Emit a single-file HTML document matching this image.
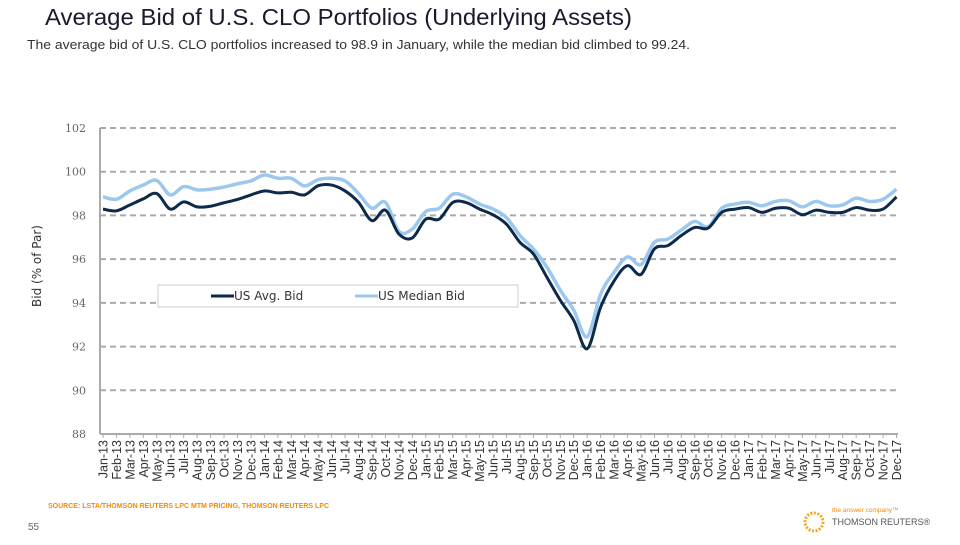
<!DOCTYPE html>
<html><head><meta charset="utf-8"><style>
body{margin:0;width:960px;height:540px;background:#fff;overflow:hidden;font-family:"Liberation Sans",sans-serif;}
</style></head><body>
<svg width="960" height="540" xmlns="http://www.w3.org/2000/svg">
<text x="45" y="25" font-size="23.5" textLength="587" lengthAdjust="spacingAndGlyphs" fill="#1a1a2e">Average Bid of U.S. CLO Portfolios (Underlying Assets)</text>
<text x="27" y="49" font-size="12.5" textLength="663" lengthAdjust="spacingAndGlyphs" fill="#333">The average bid of U.S. CLO portfolios increased to 98.9 in January, while the median bid climbed to 99.24.</text>
<text transform="translate(41,266) rotate(-90)" text-anchor="middle" font-size="12" font-family="DejaVu Sans,sans-serif" fill="#333">Bid (% of Par)</text>
<g id="grid"></g><g id="yt"></g><g id="xt"></g>
<line x1="100" y1="128" x2="100" y2="434" stroke="#aaa" stroke-width="2"/>
<g id="lines"></g>
<rect x="158" y="285" width="360" height="22" fill="#fff" stroke="#ccc"/>
<line x1="211" y1="296" x2="234" y2="296" stroke="#0d2a4a" stroke-width="3"/>
<text x="234" y="300" font-size="12" font-family="DejaVu Sans,sans-serif" fill="#333">US Avg. Bid</text>
<line x1="355" y1="296" x2="378" y2="296" stroke="#9dc8ee" stroke-width="3"/>
<text x="378" y="300" font-size="12" font-family="DejaVu Sans,sans-serif" fill="#333">US Median Bid</text>
<text x="48" y="508" font-size="7" font-weight="bold" fill="#f28c00">SOURCE: LSTA/THOMSON REUTERS LPC MTM PRICING, THOMSON REUTERS LPC</text>
<text x="28" y="530" font-size="10" fill="#666">55</text>
<circle cx="814" cy="522" r="9" fill="none" stroke="#f5a623" stroke-width="3" stroke-dasharray="2 1.5"/>
<text x="832" y="512" font-size="6.5" fill="#f28c00">the answer company™</text>
<text x="832" y="525" font-size="9" fill="#555">THOMSON REUTERS®</text>
</svg>
<script>
const months=[];const mn=["Jan","Feb","Mar","Apr","May","Jun","Jul","Aug","Sep","Oct","Nov","Dec"];
for(let y=13;y<=17;y++)for(const m of mn)months.push(m+"-"+y);
const yTicks=[88,90,92,94,96,98,100,102];
const avgBid=[98.29,98.21,98.48,98.76,99.0,98.29,98.62,98.39,98.42,98.58,98.73,98.94,99.12,99.03,99.06,98.94,99.36,99.39,99.12,98.6,97.76,98.24,97.15,96.97,97.83,97.83,98.59,98.59,98.29,98.03,97.6,96.77,96.24,95.18,94.12,93.2,91.9,93.8,95.0,95.7,95.3,96.47,96.62,97.08,97.45,97.42,98.14,98.29,98.36,98.14,98.33,98.33,98.03,98.24,98.14,98.14,98.36,98.24,98.29,98.85];
const medianBid=[98.85,98.74,99.12,99.39,99.6,98.94,99.32,99.17,99.2,99.3,99.45,99.58,99.85,99.7,99.7,99.35,99.64,99.7,99.58,99.0,98.33,98.6,97.27,97.38,98.18,98.33,98.97,98.85,98.52,98.29,97.9,97.08,96.47,95.64,94.58,93.67,92.45,94.4,95.4,96.1,95.75,96.77,96.92,97.33,97.73,97.48,98.33,98.52,98.6,98.44,98.64,98.67,98.39,98.64,98.44,98.48,98.79,98.64,98.74,99.2];
const NS="http://www.w3.org/2000/svg";
const yS=v=>434-(v-88)*(306/14);
const xS=i=>103+i*(793.5/(months.length-1));
const g=document.getElementById("grid"),yt=document.getElementById("yt"),xt=document.getElementById("xt"),L=document.getElementById("lines");
yTicks.forEach(v=>{
 const l=document.createElementNS(NS,"line");
 l.setAttribute("x1",100);l.setAttribute("x2",898);l.setAttribute("y1",yS(v));l.setAttribute("y2",yS(v));
 l.setAttribute("stroke","#aaa");l.setAttribute("stroke-width","2");if(v!==88)l.setAttribute("stroke-dasharray","6 4");
 
 
 g.appendChild(l);
 const t=document.createElementNS(NS,"text");
 t.setAttribute("x",86);t.setAttribute("y",yS(v)+4);t.setAttribute("text-anchor","end");t.setAttribute("font-size","11");
 t.setAttribute("font-family","DejaVu Serif,serif");t.setAttribute("fill","#666");t.textContent=v;
 
 
 yt.appendChild(t);
});
months.forEach((m,i)=>{
 const tk=document.createElementNS(NS,"line");
 tk.setAttribute("x1",xS(i));tk.setAttribute("x2",xS(i));tk.setAttribute("y1",434);tk.setAttribute("y2",438);tk.setAttribute("stroke","#aaa");
 
 
 xt.appendChild(tk);
 const t=document.createElementNS(NS,"text");
 t.setAttribute("transform",`translate(${xS(i)+4.5},440) rotate(-90)`);t.setAttribute("text-anchor","end");
 t.setAttribute("font-size","12.5");t.setAttribute("fill","#333");t.textContent=m;
 
 
 xt.appendChild(t);
});
function path(vals){
 const p=vals.map((v,i)=>[xS(i),yS(v)]);let d=`M${p[0][0]},${p[0][1]}`;
 for(let i=0;i<p.length-1;i++){const p0=p[Math.max(0,i-1)],p1=p[i],p2=p[i+1],p3=p[Math.min(p.length-1,i+2)];
  d+=` C${p1[0]+(p2[0]-p0[0])/6},${p1[1]+(p2[1]-p0[1])/6} ${p2[0]-(p3[0]-p1[0])/6},${p2[1]-(p3[1]-p1[1])/6} ${p2[0]},${p2[1]}`;}
 return d;
}
const m=document.createElementNS(NS,"path");
m.setAttribute("d",path(medianBid));m.setAttribute("fill","none");m.setAttribute("stroke","#9dc8ee");m.setAttribute("stroke-width","3.5");


L.appendChild(m);
const a=document.createElementNS(NS,"path");
a.setAttribute("d",path(avgBid));a.setAttribute("fill","none");a.setAttribute("stroke","#0d2a4a");a.setAttribute("stroke-width","3");


L.appendChild(a);
</script>
</body></html>
